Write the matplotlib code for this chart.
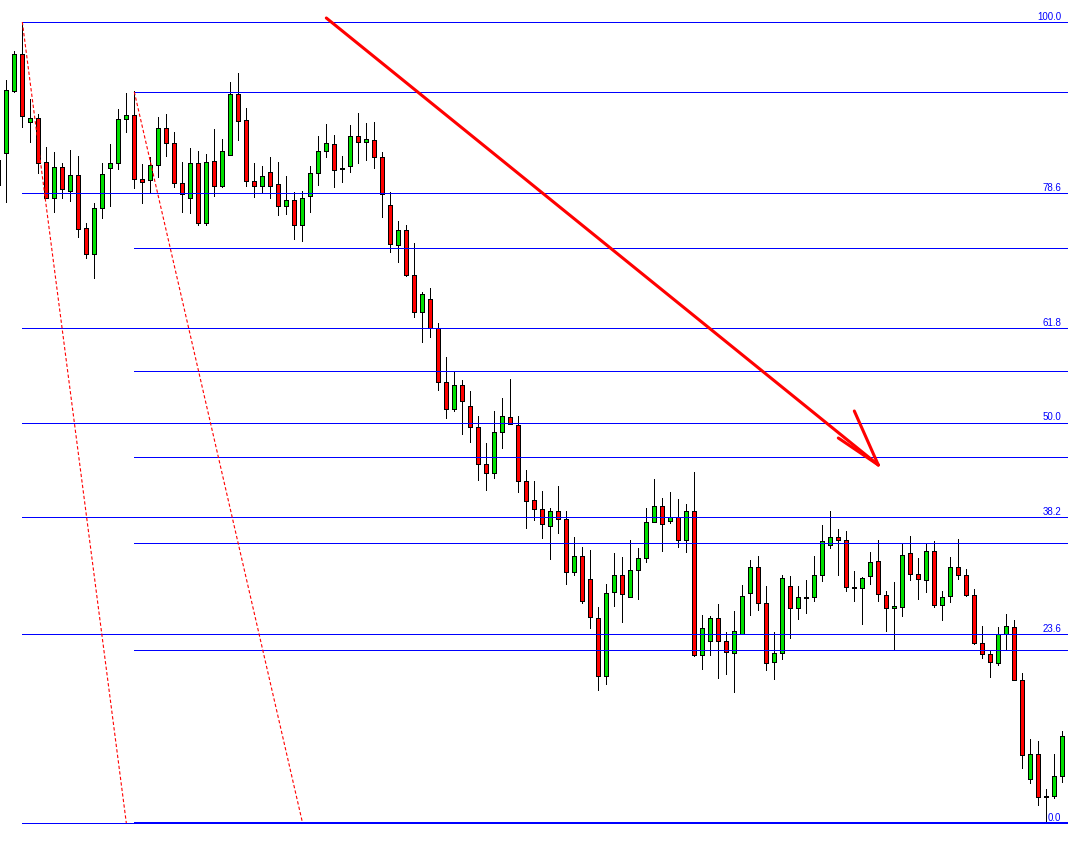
"""
Svijece + dva Fibonacci retracementa i rucno nacrtana strelica (MT4 stil).
Cijene su procijenjene sa slike, 1 piksel ~ 1 pip.
"""

import matplotlib
matplotlib.use("Agg")
import matplotlib.pyplot as plt
from matplotlib.patches import Rectangle

# --- OHLC po svijecama (indeks svijece = x) ---
opens = [
    1.2663, 1.2670, 1.2732, 1.2769, 1.2701, 1.2705, 1.2661, 1.2625, 1.2656, 1.2632,
    1.2648, 1.2595, 1.2569, 1.2615, 1.2655, 1.2660, 1.2704, 1.2708, 1.2644, 1.2643,
    1.2658, 1.2695, 1.2680, 1.2640, 1.2625, 1.2660, 1.2600, 1.2662, 1.2637, 1.2668,
    1.2729, 1.2703, 1.2642, 1.2637, 1.2651, 1.2639, 1.2617, 1.2623, 1.2598, 1.2627,
    1.2650, 1.2672, 1.2679, 1.2654, 1.2657, 1.2687, 1.2681, 1.2683, 1.2666, 1.2618,
    1.2578, 1.2593, 1.2548, 1.2511, 1.2524, 1.2495, 1.2441, 1.2414, 1.2438, 1.2417,
    1.2396, 1.2359, 1.2350, 1.2391, 1.2406, 1.2398, 1.2342, 1.2323, 1.2314, 1.2297,
    1.2312, 1.2304, 1.2251, 1.2267, 1.2244, 1.2205, 1.2147, 1.2231, 1.2248, 1.2226,
    1.2253, 1.2265, 1.2301, 1.2317, 1.2302, 1.2306, 1.2283, 1.2312, 1.2168, 1.2182,
    1.2205, 1.2182, 1.2170, 1.2189, 1.2230, 1.2256, 1.2220, 1.2161, 1.2170, 1.2237,
    1.2215, 1.2225, 1.2226, 1.2248, 1.2278, 1.2286, 1.2283, 1.2235, 1.2235, 1.2247,
    1.2262, 1.2228, 1.2215, 1.2216, 1.2270, 1.2249, 1.2243, 1.2272, 1.2218, 1.2227,
    1.2256, 1.2248, 1.2228, 1.2180, 1.2169, 1.2160, 1.2189, 1.2196, 1.2143, 1.2044,
    1.2069, 1.2026, 1.2027, 1.2047,
]
highs = [
    1.2670, 1.2743, 1.2772, 1.2801, 1.2724, 1.2709, 1.2676, 1.2671, 1.2660, 1.2673,
    1.2667, 1.2600, 1.2620, 1.2660, 1.2679, 1.2714, 1.2730, 1.2732, 1.2659, 1.2666,
    1.2706, 1.2709, 1.2691, 1.2661, 1.2675, 1.2672, 1.2669, 1.2694, 1.2684, 1.2741,
    1.2750, 1.2715, 1.2660, 1.2657, 1.2666, 1.2661, 1.2647, 1.2631, 1.2632, 1.2657,
    1.2687, 1.2699, 1.2688, 1.2667, 1.2698, 1.2710, 1.2700, 1.2701, 1.2671, 1.2631,
    1.2602, 1.2598, 1.2580, 1.2531, 1.2535, 1.2500, 1.2466, 1.2452, 1.2443, 1.2432,
    1.2407, 1.2380, 1.2412, 1.2425, 1.2444, 1.2407, 1.2353, 1.2342, 1.2332, 1.2315,
    1.2337, 1.2312, 1.2286, 1.2276, 1.2273, 1.2216, 1.2239, 1.2270, 1.2266, 1.2283,
    1.2275, 1.2315, 1.2344, 1.2325, 1.2331, 1.2324, 1.2319, 1.2351, 1.2208, 1.2207,
    1.2219, 1.2191, 1.2212, 1.2238, 1.2263, 1.2267, 1.2237, 1.2191, 1.2248, 1.2247,
    1.2237, 1.2243, 1.2267, 1.2298, 1.2312, 1.2294, 1.2292, 1.2252, 1.2246, 1.2271,
    1.2283, 1.2232, 1.2241, 1.2279, 1.2287, 1.2265, 1.2279, 1.2282, 1.2232, 1.2266,
    1.2284, 1.2254, 1.2234, 1.2197, 1.2172, 1.2196, 1.2209, 1.2203, 1.2150, 1.2084,
    1.2082, 1.2034, 1.2069, 1.2092,
]
lows = [
    1.2631, 1.2621, 1.2731, 1.2696, 1.2681, 1.2650, 1.2625, 1.2611, 1.2625, 1.2622,
    1.2586, 1.2565, 1.2545, 1.2605, 1.2617, 1.2654, 1.2691, 1.2635, 1.2620, 1.2630,
    1.2646, 1.2667, 1.2636, 1.2611, 1.2610, 1.2598, 1.2598, 1.2627, 1.2636, 1.2668,
    1.2683, 1.2637, 1.2626, 1.2630, 1.2625, 1.2608, 1.2609, 1.2584, 1.2582, 1.2611,
    1.2638, 1.2666, 1.2636, 1.2641, 1.2651, 1.2660, 1.2663, 1.2655, 1.2606, 1.2571,
    1.2561, 1.2547, 1.2506, 1.2481, 1.2486, 1.2433, 1.2405, 1.2412, 1.2389, 1.2381,
    1.2343, 1.2333, 1.2345, 1.2375, 1.2399, 1.2331, 1.2295, 1.2303, 1.2285, 1.2264,
    1.2290, 1.2239, 1.2248, 1.2220, 1.2195, 1.2133, 1.2139, 1.2217, 1.2201, 1.2226,
    1.2224, 1.2261, 1.2301, 1.2272, 1.2300, 1.2276, 1.2271, 1.2167, 1.2154, 1.2168,
    1.2145, 1.2149, 1.2131, 1.2189, 1.2208, 1.2213, 1.2153, 1.2144, 1.2164, 1.2185,
    1.2204, 1.2210, 1.2222, 1.2242, 1.2275, 1.2248, 1.2232, 1.2222, 1.2199, 1.2239,
    1.2222, 1.2192, 1.2174, 1.2207, 1.2243, 1.2224, 1.2231, 1.2216, 1.2203, 1.2221,
    1.2244, 1.2227, 1.2179, 1.2165, 1.2146, 1.2158, 1.2173, 1.2143, 1.2055, 1.2040,
    1.2018, 1.2000, 1.2025, 1.2041,
]
closes = [
    1.2638, 1.2733, 1.2769, 1.2707, 1.2705, 1.2660, 1.2625, 1.2656, 1.2634, 1.2648,
    1.2594, 1.2569, 1.2615, 1.2649, 1.2660, 1.2704, 1.2708, 1.2644, 1.2641, 1.2658,
    1.2695, 1.2680, 1.2640, 1.2629, 1.2660, 1.2600, 1.2661, 1.2637, 1.2672, 1.2729,
    1.2702, 1.2642, 1.2637, 1.2647, 1.2637, 1.2617, 1.2623, 1.2598, 1.2625, 1.2650,
    1.2672, 1.2680, 1.2653, 1.2654, 1.2687, 1.2681, 1.2684, 1.2666, 1.2629, 1.2579,
    1.2593, 1.2548, 1.2511, 1.2529, 1.2495, 1.2441, 1.2414, 1.2438, 1.2422, 1.2396,
    1.2359, 1.2350, 1.2391, 1.2407, 1.2399, 1.2342, 1.2322, 1.2314, 1.2299, 1.2312,
    1.2304, 1.2251, 1.2267, 1.2222, 1.2206, 1.2147, 1.2230, 1.2248, 1.2229, 1.2253,
    1.2265, 1.2301, 1.2317, 1.2299, 1.2306, 1.2283, 1.2312, 1.2168, 1.2195, 1.2205,
    1.2182, 1.2171, 1.2192, 1.2227, 1.2256, 1.2220, 1.2160, 1.2170, 1.2245, 1.2215,
    1.2226, 1.2225, 1.2248, 1.2282, 1.2286, 1.2283, 1.2236, 1.2235, 1.2245, 1.2261,
    1.2229, 1.2215, 1.2217, 1.2268, 1.2249, 1.2244, 1.2272, 1.2218, 1.2226, 1.2256,
    1.2248, 1.2228, 1.2180, 1.2169, 1.2161, 1.2189, 1.2197, 1.2143, 1.2068, 1.2069,
    1.2026, 1.2026, 1.2047, 1.2087,
]

# --- Fibonacci nivoi i sidra (svijeca, cijena) ---
fib_levels = [0.0, 23.6, 38.2, 50.0, 61.8, 78.6, 100.0]
fib1_high = (3, 1.2801)
fib1_low = (16, 1.2000)
fib2_high = (17, 1.2731)
fib2_low = (38, 1.2001)

# --- strelica (trend linija + dva kraka) ---
arrow_start = (41, 1.2805)
arrow_end = (110, 1.2358)
arrow_wing1 = (107, 1.2412)
arrow_wing2 = (105, 1.2385)

GREEN = "#00E000"
RED = "#FF0000"
BLUE = "#0000FF"
LW = 0.6  # ~1 piksel bez antialiasinga

fig = plt.figure(figsize=(10.68, 8.44), dpi=100)
ax = fig.add_axes([0, 0, 1, 1])
ax.set_axis_off()
ax.set_xlim(0.21, 133.71)
ax.set_ylim(1.1979, 1.2823)

# svijece
for i, (o, h, l, c) in enumerate(zip(opens, highs, lows, closes)):
    ax.vlines(i, l, h, color="black", lw=LW, antialiased=False, zorder=2)
    if abs(c - o) < 1e-9:
        ax.hlines(o, i - 0.3, i + 0.3, color="black", lw=1.4,
                  antialiased=False, zorder=3)
        continue
    face = GREEN if c > o else RED
    ax.add_patch(Rectangle((i - 0.27, min(o, c)), 0.54, abs(c - o),
                           facecolor=face, edgecolor="black", lw=LW,
                           antialiased=False, zorder=3))


def draw_fibo(high, low, labels):
    x0 = min(high[0], low[0])
    rng = high[1] - low[1]
    for lvl in fib_levels:
        y = low[1] + rng * lvl / 100.0
        ax.hlines(y, x0, 140, color=BLUE, lw=LW, antialiased=False, zorder=4)
        if labels:
            ax.text(0.9935, y, f"{lvl:.1f}", transform=ax.get_yaxis_transform(),
                    ha="right", va="bottom", fontsize=7, color=BLUE,
                    family="Liberation Sans", zorder=6)
    # isprekidana linija izmedju sidara
    ax.plot([high[0], low[0]], [high[1], low[1]], color=RED, lw=0.8,
            linestyle=(0, (3, 2)), zorder=4)


draw_fibo(fib1_high, fib1_low, labels=True)
draw_fibo(fib2_high, fib2_low, labels=False)

# strelica
for a, b in [(arrow_start, arrow_end), (arrow_wing1, arrow_end), (arrow_wing2, arrow_end)]:
    ax.plot([a[0], b[0]], [a[1], b[1]], color=RED, lw=2.2, zorder=5,
            solid_capstyle="round")

fig.savefig("out.png", dpi=100)
